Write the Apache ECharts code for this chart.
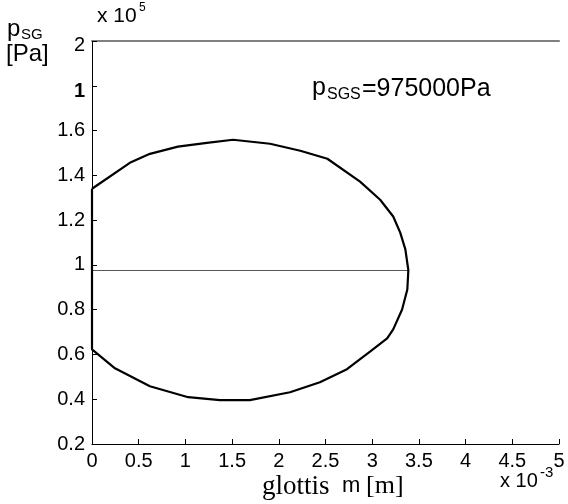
<!DOCTYPE html>
<html>
<head>
<meta charset="utf-8">
<script src="https://cdn.jsdelivr.net/npm/echarts@6/dist/echarts.min.js"></script>
<style>
  html, body { margin: 0; padding: 0; background: #fff; }
  #chart { width: 568px; height: 504px; }
</style>
</head>
<body>
<div id="chart"></div>
<script>
// glottis opening (x 1e-3 m) around the closed loop
var loopX = [0, 0.405, 0.62, 0.92, 1.23, 1.51, 1.906, 2.23, 2.52, 2.87, 3.085, 3.225, 3.30, 3.355, 3.387,
  3.376, 3.32, 3.225, 3.16, 2.98, 2.73, 2.44, 2.12, 1.69, 1.37, 1.03, 0.62, 0.246, 0, 0];
// subglottal pressure (x 1e5 Pa)
var loopY = [1.34, 1.456, 1.496, 1.528, 1.545, 1.559, 1.541, 1.51, 1.474, 1.372, 1.291, 1.216, 1.144, 1.069, 0.976,
  0.890, 0.801, 0.712, 0.672, 0.614, 0.534, 0.476, 0.431, 0.396, 0.396, 0.409, 0.458, 0.538, 0.623, 1.34];
// static pressure p_SGS line
var refX = [0, 3.387];
var refY = [0.975, 0.975];

var xMin = 0, xMax = 5, xStep = 0.5;
var yMin = 0.2, yMax = 2, yStep = 0.2;

function pairs(xs, ys) {
  var out = [];
  for (var i = 0; i < xs.length; i++) out.push([xs[i], ys[i]]);
  return out;
}

var sans = 'Liberation Sans, Arial, sans-serif';
var serif = 'Liberation Serif, Times New Roman, serif';
var chart = echarts.init(document.getElementById('chart'));
var tickFont = {color: '#000', fontSize: 20, fontFamily: sans};

function txt(left, top, text, size, font) {
  return {type: 'text', left: left, top: top, style: {text: text, fontSize: size, fontFamily: font || sans, fill: '#000'}};
}

chart.setOption({
  animation: false,
  grid: {left: 92, right: 9, top: 41, bottom: 60},
  xAxis: [{
    type: 'value', min: xMin, max: xMax, interval: xStep,
    axisLine: {lineStyle: {color: '#000', width: 1}},
    axisTick: {inside: true, length: 5, lineStyle: {color: '#000'}},
    axisLabel: Object.assign({margin: 7, formatter: function (v) { return String(parseFloat(v.toFixed(1))); }}, tickFont),
    splitLine: {show: false}
  }, {
    type: 'value', position: 'top', min: xMin, max: xMax,
    axisLine: {show: true, lineStyle: {color: '#808080', width: 2}},
    axisTick: {show: false}, axisLabel: {show: false}, splitLine: {show: false}
  }],
  yAxis: [{
    type: 'value', min: yMin, max: yMax, interval: yStep,
    axisLine: {show: true, lineStyle: {color: '#000', width: 1}},
    axisTick: {show: true, inside: true, length: 5, lineStyle: {color: '#000'}},
    axisLabel: Object.assign({
      margin: 7,
      formatter: function (v) {
        var s = parseFloat(v.toFixed(1));
        if (s === 1.8) return '{b|1}';
        if (s === 2) return '{t|2}';
        return String(s);
      },
      rich: {
        b: {fontSize: 20, fontWeight: 'bold', fontFamily: sans, padding: [12, 0, 0, 0]},
        t: {fontSize: 20, fontFamily: sans, padding: [8, 0, 0, 0]}
      }
    }, tickFont),
    splitLine: {show: false}
  }, {
    type: 'value', position: 'right', min: yMin, max: yMax,
    axisLine: {show: true, lineStyle: {color: '#000', width: 1}},
    axisTick: {show: false}, axisLabel: {show: false}, splitLine: {show: false}
  }],
  series: [{
    type: 'line',
    data: pairs(refX, refY),
    showSymbol: false,
    lineStyle: {color: '#555', width: 1},
    z: 2
  }, {
    type: 'line',
    data: pairs(loopX, loopY),
    showSymbol: false,
    lineStyle: {color: '#000', width: 2.2},
    z: 3
  }],
  graphic: [
    // y axis name
    txt(7, 17, 'p', 24),
    txt(21, 27, 'SG', 15),
    txt(6, 42, '[Pa]', 24),
    // y exponent
    txt(97, 6, 'x 10', 21),
    txt(139, 2, '5', 12),
    // annotation
    txt(312, 76, 'p', 25),
    txt(327, 87, 'SGS', 16),
    txt(362, 77, '=975000Pa', 25),
    // x axis name
    txt(262, 473, 'glottis', 27, serif),
    txt(342, 475, 'm', 22),
    txt(366, 473, '[m]', 26, serif),
    // x exponent
    txt(500, 471, 'x 10', 20),
    txt(540, 465, '-3', 15)
  ]
});
</script>
</body>
</html>
